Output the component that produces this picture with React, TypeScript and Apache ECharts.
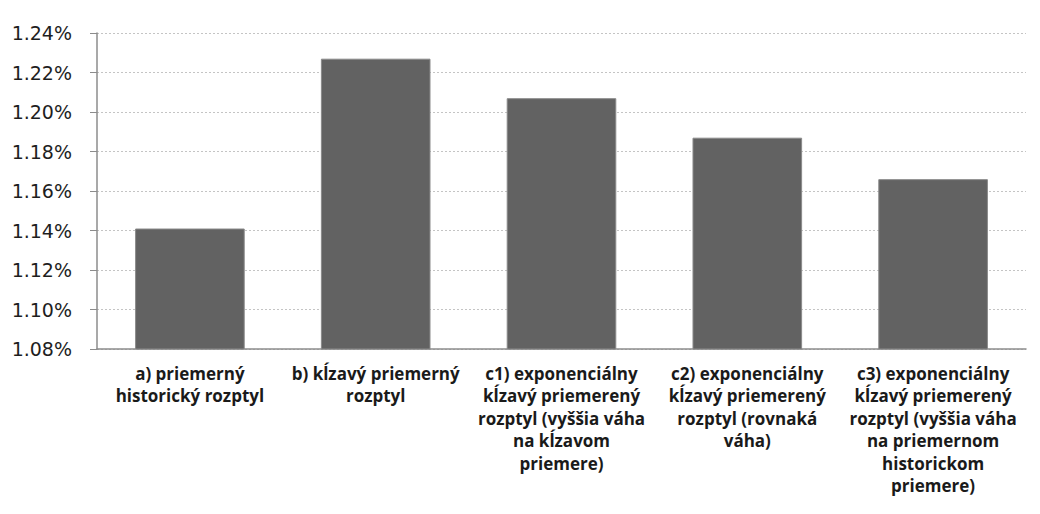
import React, { useEffect, useRef } from "react";
import * as echarts from "echarts";

// Category labels (line breaks as laid out under each bar)
const categories: string[] = [
  "a) priemerný\nhistorický rozptyl",
  "b) kĺzavý priemerný\nrozptyl",
  "c1) exponenciálny\nkĺzavý priemerený\nrozptyl (vyššia váha\nna kĺzavom\npriemere)",
  "c2) exponenciálny\nkĺzavý priemerený\nrozptyl (rovnaká\nváha)",
  "c3) exponenciálny\nkĺzavý priemerený\nrozptyl (vyššia váha\nna priemernom\nhistorickom\npriemere)",
];

// Variance values in percent
const values: number[] = [1.141, 1.227, 1.207, 1.187, 1.166];

// Value axis range (percent)
const yMin = 1.08;
const yMax = 1.24;
const yStep = 0.02;

export default function App() {
  const ref = useRef<HTMLDivElement>(null);

  useEffect(() => {
    if (!ref.current) return;
    const chart = echarts.init(ref.current, undefined, { renderer: "svg" });
    chart.setOption({
      animation: false,
      backgroundColor: "#ffffff",
      grid: { left: 97, right: 14, top: 33, bottom: 165, containLabel: false },
      xAxis: {
        type: "category",
        data: categories,
        axisLine: { show: true, lineStyle: { color: "#8c8c8c", width: 1.5 } },
        axisTick: { show: false },
        axisLabel: {
          interval: 0,
          margin: 13,
          color: "#1a1a1a",
          fontFamily: "Open Sans",
          fontWeight: "bold",
          fontSize: 17,
          lineHeight: 22.5,
          align: "center",
        },
      },
      yAxis: {
        type: "value",
        min: yMin,
        max: yMax,
        interval: yStep,
        axisLine: { show: true, lineStyle: { color: "#8c8c8c", width: 1.5 } },
        axisTick: { show: true, length: 7, lineStyle: { color: "#8c8c8c" } },
        axisLabel: {
          margin: 25,
          color: "#1e1e1e",
          fontFamily: "DejaVu Sans",
          fontSize: 19,
          formatter: (v: number) => v.toFixed(2) + "%",
        },
        splitLine: {
          show: true,
          lineStyle: { color: "#c4c4c4", type: [2, 2], width: 1 },
        },
      },
      series: [
        {
          type: "bar",
          data: values,
          barCategoryGap: "41%",
          itemStyle: {
            color: "#626262",
            borderColor: "#8a8a8a",
            borderWidth: 1,
          },
        },
      ],
    });
    return () => chart.dispose();
  }, []);

  return <div ref={ref} style={{ width: 1040, height: 514, margin: -8 }} />;
}
